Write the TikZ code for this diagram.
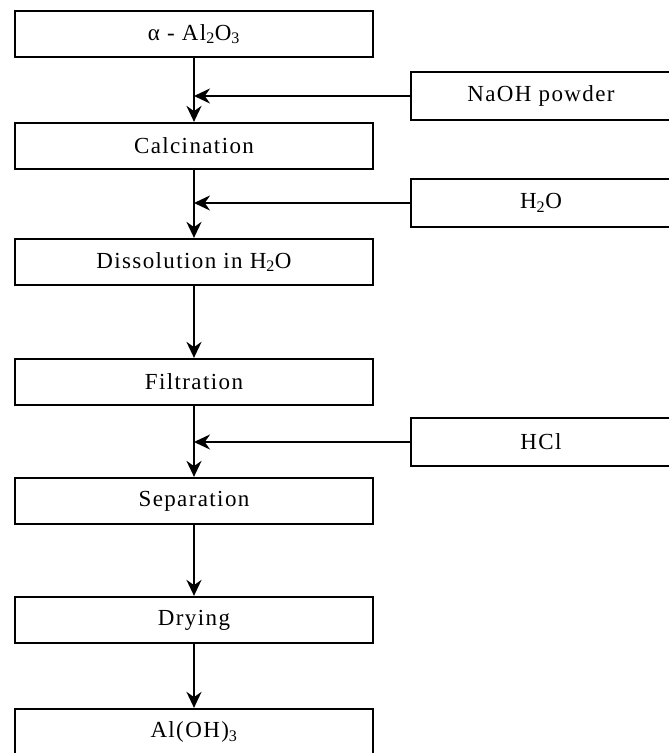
\documentclass[tikz,border=0pt]{standalone}
\usepackage{fontspec}
\setmainfont{Liberation Serif}[LetterSpace=6]
\usetikzlibrary{arrows.meta}

\begin{document}
\begin{tikzpicture}[x=1pt, y=-1pt,
	stage/.style={draw, line width=2.2pt, minimum width=358pt, minimum height=46pt, inner sep=0pt, font=\fontsize{23}{27}\selectfont},
	feed/.style={stage, minimum width=260pt, minimum height=48pt},
	flow/.style={line width=2.2pt, -{Stealth[length=16pt, width=15pt]}}]
	\useasboundingbox (0,0) rectangle (669,753);

	% process line
	\node[stage] (alumina) at (194, 34) {α - Al\textsubscript{2}O\textsubscript{3}};
	\node[stage] (calc) at (194, 146) {Calcination};
	\node[stage] (dissol) at (194, 262) {Dissolution in H\textsubscript{2}O};
	\node[stage] (filtr) at (194, 382) {Filtration};
	\node[stage] (separ) at (194, 501) {Separation};
	\node[stage] (dry) at (194, 620) {Drying};
	\node[stage] (hydrox) at (194, 732) {Al(OH)\textsubscript{3}};

	% added reagents
	\node[feed] (naoh) at (541, 96) {NaOH powder};
	\node[feed] (water) at (541, 203) {H\textsubscript{2}O};
	\node[feed] (hcl) at (541, 442) {HCl};

	\draw[flow] (alumina) -- (calc);
	\draw[flow] (calc) -- (dissol);
	\draw[flow] (dissol) -- (filtr);
	\draw[flow] (filtr) -- (separ);
	\draw[flow] (separ) -- (dry);
	\draw[flow] (dry) -- (hydrox);

	\draw[flow] (naoh.west) -- (naoh.west -| alumina.south);
	\draw[flow] (water.west) -- (water.west -| calc.south);
	\draw[flow] (hcl.west) -- (hcl.west -| filtr.south);
\end{tikzpicture}
\end{document}
